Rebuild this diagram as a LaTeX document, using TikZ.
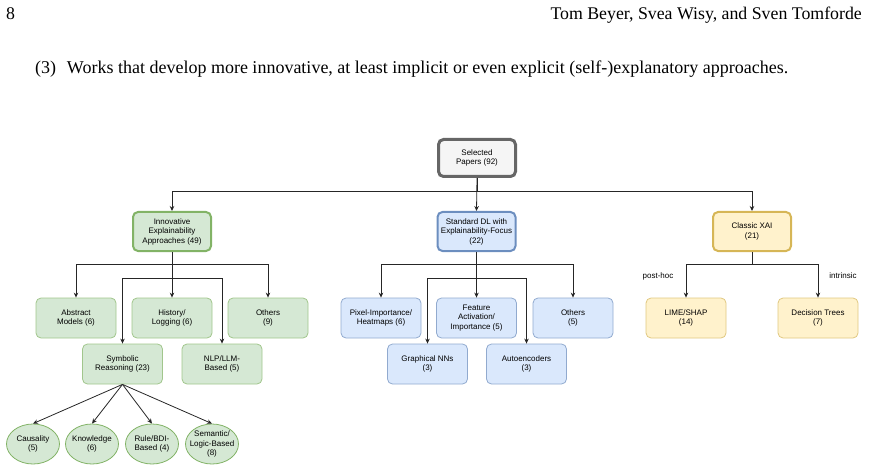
\documentclass[tikz,border=0pt]{standalone}
\usepackage{fontspec}
\setmainfont{Liberation Serif}
\newfontfamily\diagfont{Liberation Sans}
\usetikzlibrary{arrows.meta,shapes.geometric}
\definecolor{gfill}{HTML}{D5E8D4}
\definecolor{gline}{HTML}{82B366}
\definecolor{bfill}{HTML}{DAE8FC}
\definecolor{bline}{HTML}{6C8EBF}
\definecolor{yfill}{HTML}{FFF2CC}
\definecolor{yline}{HTML}{D6B656}
\definecolor{rfill}{HTML}{F5F5F5}
\definecolor{rline}{HTML}{666666}
\tikzset{
  box/.style={rectangle, rounded corners=5pt, minimum width=80pt, minimum height=40pt,
    align=center, inner sep=1pt, font=\diagfont\fontsize{8}{9.5}\selectfont, line width=0.8pt},
  rootbox/.style={box, fill=rfill, draw=rline, line width=3pt, minimum width=77pt, minimum height=37pt},
  gtop/.style={box, fill=gfill, draw=gline, line width=2pt, minimum width=78pt, minimum height=39pt},
  btop/.style={box, fill=bfill, draw=bline, line width=2pt, minimum width=78pt, minimum height=39pt},
  ytop/.style={box, fill=yfill, draw=yline, line width=2pt, minimum width=78pt, minimum height=39pt},
  gbox/.style={box, fill=gfill, draw=gline!75},
  bbox/.style={box, fill=bfill, draw=bline!75},
  ybox/.style={box, fill=yfill, draw=yline!75},
  gell/.style={ellipse, fill=gfill, draw=gline, line width=0.8pt, minimum width=53pt, minimum height=40pt,
    inner sep=-3.5pt, align=center, font=\diagfont\fontsize{8}{9.5}\selectfont},
  arr/.style={draw=black!85, line width=0.8pt, -{Stealth[length=5pt,width=4.5pt]}},
  lbl/.style={font=\diagfont\fontsize{8}{9.5}\selectfont, inner sep=0pt},
}
\begin{document}
\begin{tikzpicture}[x=1pt,y=-1pt]
\useasboundingbox (0,0) rectangle (869,470);
% header
\node[anchor=base west, inner sep=0pt, font=\fontsize{17.8}{20}\selectfont] (pg) at (6,20) {8};
\node[anchor=base east, inner sep=0pt, font=\fontsize{17.8}{20}\selectfont] (auth) at (862,20) {Tom Beyer, Svea Wisy, and Sven Tomforde};
\node[anchor=base west, inner sep=0pt, font=\fontsize{18}{20}\selectfont] (item) at (35,73.5) {(3)\hspace{0.6em}Works that develop more innovative, at least implicit or even explicit (self-)explanatory approaches.};
% root
\node[rootbox] (root) at (477,158) {Selected\\Papers (92)};
% level 1
\node[gtop] (inn) at (172,231.5) {Innovative\\Explainability\\Approaches (49)};
\node[btop] (std) at (476.5,231.5) {Standard DL with\\Explainability-Focus\\(22)};
\node[ytop] (cls) at (752,231.5) {Classic XAI\\(21)};
% innovative children
\node[gbox] (abs) at (76,318) {Abstract\\Models (6)};
\node[gbox] (his) at (172,318) {History/\\Logging (6)};
\node[gbox] (oth1) at (268,318) {Others\\(9)};
\node[gbox] (sym) at (122.5,364) {Symbolic\\Reasoning (23)};
\node[gbox] (nlp) at (222,364) {NLP/LLM-\\Based (5)};
% ellipses
\node[gell] (cau) at (33,444) {Causality\\(5)};
\node[gell] (kno) at (92,444) {Knowledge\\(6)};
\node[gell] (rul) at (152,444) {Rule/BDI-\\Based (4)};
\node[gell] (sem) at (212,444) {Semantic/\\Logic-Based\\(8)};
% standard children
\node[bbox] (pix) at (381,318) {Pixel-Importance/\\Heatmaps (6)};
\node[bbox] (fea) at (476.5,318) {Feature\\Activation/\\Importance (5)};
\node[bbox] (oth2) at (573,318) {Others\\(5)};
\node[bbox] (gnn) at (427.5,364) {Graphical NNs\\(3)};
\node[bbox] (aut) at (526.5,364) {Autoencoders\\(3)};
% classic children
\node[ybox] (lime) at (686,318) {LIME/SHAP\\(14)};
\node[ybox] (dt) at (818,318) {Decision Trees\\(7)};
\node[lbl] (ph) at (658,276) {post-hoc};
\node[lbl] (in) at (843,276) {intrinsic};
% connectors root
\draw[arr] (root.south) -- ++(0,13) -| (inn.north);
\draw[arr] (root.south) -- (std.north);
\draw[arr] (root.south) -- ++(0,13) -| (cls.north);
% innovative
\draw[arr] (inn.south) -- ++(0,12) -| (abs.north);
\draw[arr] (inn.south) -- (his.north);
\draw[arr] (inn.south) -- ++(0,12) -| (oth1.north);
\draw[arr] (inn.south) -- ++(0,26) -| (sym.north);
\draw[arr] (inn.south) -- ++(0,26) -| (nlp.north);
\draw[arr] (sym.south) -- (cau.north);
\draw[arr] (sym.south) -- (kno.north);
\draw[arr] (sym.south) -- (rul.north);
\draw[arr] (sym.south) -- (sem.north);
% standard
\draw[arr] (std.south) -- ++(0,12) -| (pix.north);
\draw[arr] (std.south) -- (fea.north);
\draw[arr] (std.south) -- ++(0,12) -| (oth2.north);
\draw[arr] (std.south) -- ++(0,26) -| (gnn.north);
\draw[arr] (std.south) -- ++(0,26) -| (aut.north);
% classic
\draw[arr] (cls.south) -- ++(0,12) -| (lime.north);
\draw[arr] (cls.south) -- ++(0,12) -| (dt.north);
\end{tikzpicture}
\end{document}
